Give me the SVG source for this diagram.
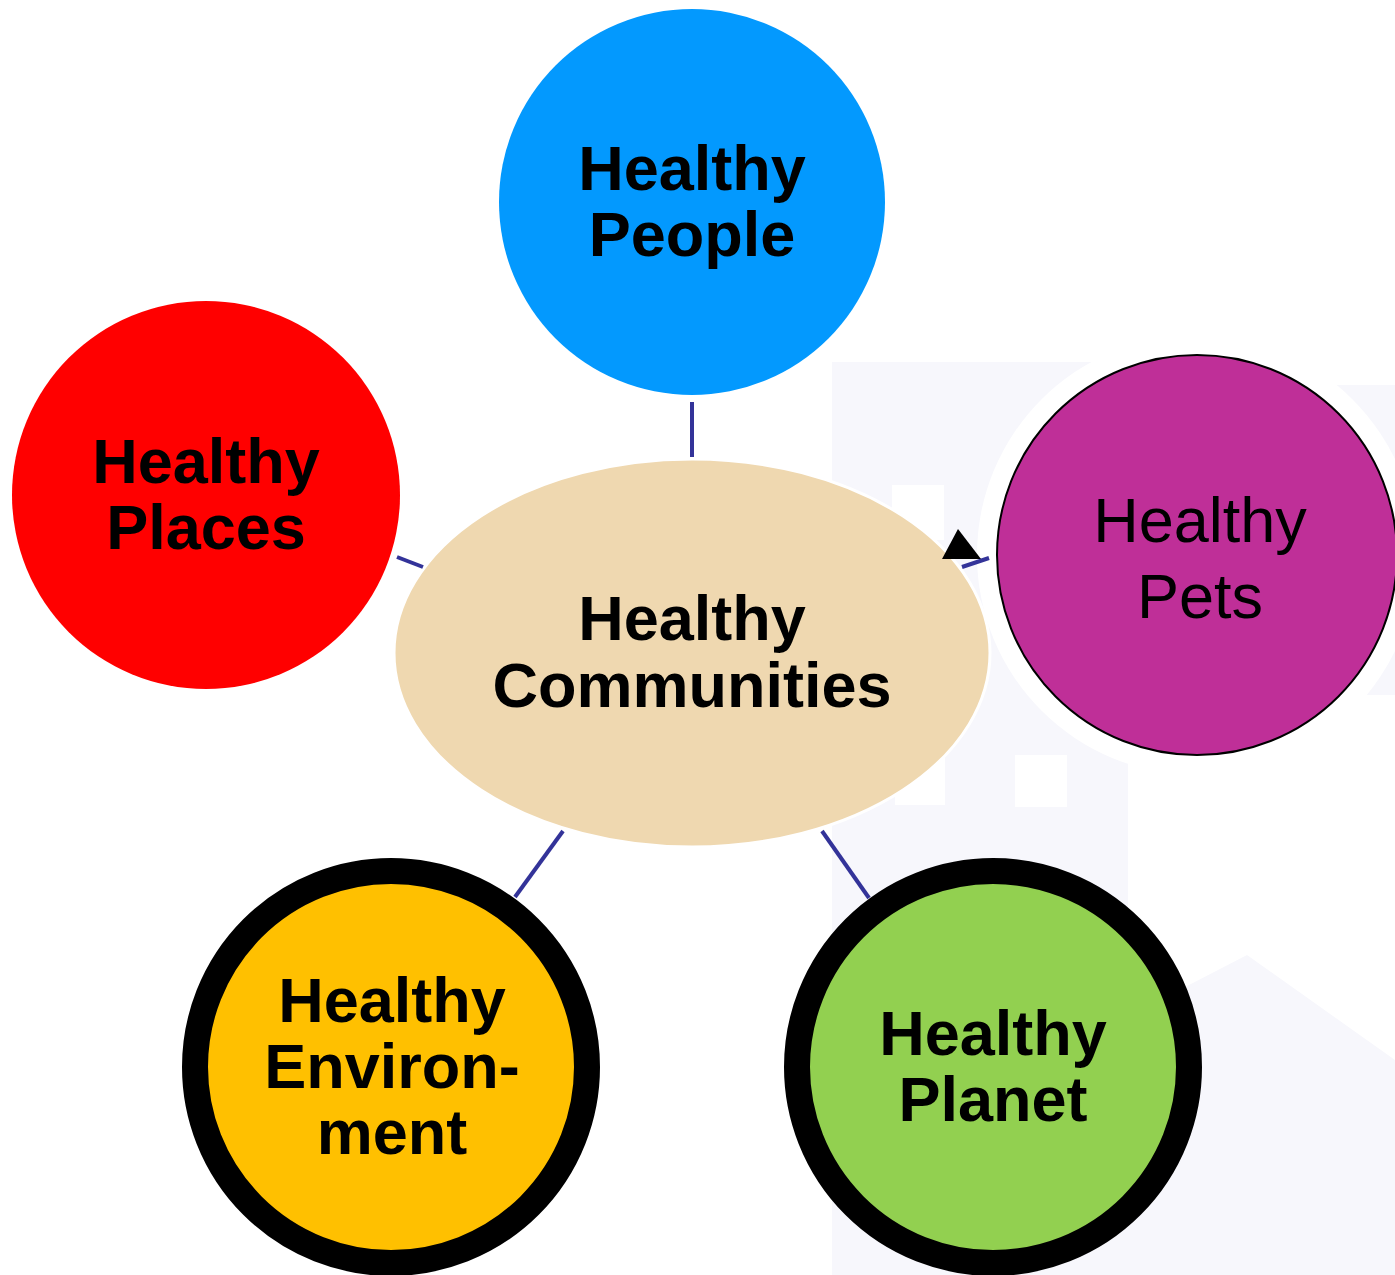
<svg xmlns="http://www.w3.org/2000/svg" width="1395" height="1275" viewBox="0 0 1395 1275">
<style>
.b{font-family:"Liberation Sans",Arial,sans-serif;font-weight:bold;font-size:63px;fill:#000;text-anchor:middle}
.r{font-family:"Liberation Sans",Arial,sans-serif;font-size:63px;fill:#000;text-anchor:middle}
.c{stroke:#333399;stroke-width:4;fill:none}
.wm{fill:#f7f7fc}
.win{fill:#ffffff}
</style>
<rect width="1395" height="1275" fill="#ffffff"/>
<g id="watermark">
<rect class="wm" x="832" y="362" width="296" height="913"/>
<rect class="wm" x="1128" y="385" width="267" height="310"/>
<polygon class="wm" points="1128,1000 1160,1000 1247,955 1395,1060 1395,1275 1128,1275"/>
<rect class="win" x="892" y="485" width="52" height="55"/>
<rect class="win" x="895" y="755" width="50" height="50"/>
<rect class="win" x="1015" y="755" width="52" height="52"/>
<circle cx="1197" cy="555" r="220" fill="#ffffff"/>
</g>
<g id="people">
<circle cx="692" cy="202" r="193" fill="#0399fe"/>
<text class="b" x="692" y="190">Healthy</text>
<text class="b" x="692" y="256">People</text>
</g>
<g id="places">
<circle cx="206" cy="495" r="194" fill="#ff0000"/>
<text class="b" x="206" y="483">Healthy</text>
<text class="b" x="206" y="549">Places</text>
</g>
<g id="communities">
<ellipse cx="692" cy="653" rx="298" ry="194" fill="#efd8b0" stroke="#ffffff" stroke-width="3"/>
<text class="b" x="692" y="640">Healthy</text>
<text class="b" x="692" y="707">Communities</text>
</g>
<g id="pets">
<circle cx="1197" cy="555" r="200" fill="#bf2f98" stroke="#000" stroke-width="2"/>
<text class="r" x="1200" y="542">Healthy</text>
<text class="r" x="1200" y="618">Pets</text>
</g>
<g id="environment">
<circle cx="391" cy="1067" r="196" fill="#ffc000" stroke="#000" stroke-width="26"/>
<text class="b" x="392" y="1022">Healthy</text>
<text class="b" x="392" y="1088">Environ-</text>
<text class="b" x="392" y="1154">ment</text>
</g>
<g id="planet">
<circle cx="993" cy="1067" r="196" fill="#92d050" stroke="#000" stroke-width="26"/>
<text class="b" x="993" y="1055">Healthy</text>
<text class="b" x="993" y="1121">Planet</text>
</g>
<g id="connectors">
<line class="c" x1="692" y1="402" x2="692" y2="457"/>
<line class="c" x1="397" y1="557" x2="423" y2="567"/>
<line class="c" x1="563" y1="831" x2="515" y2="897"/>
<line class="c" x1="822" y1="831" x2="869" y2="898"/>
<line class="c" x1="962" y1="567" x2="989" y2="558"/>
<polygon points="958,529 942,559 981,559" fill="#000"/>
</g>
</svg>
